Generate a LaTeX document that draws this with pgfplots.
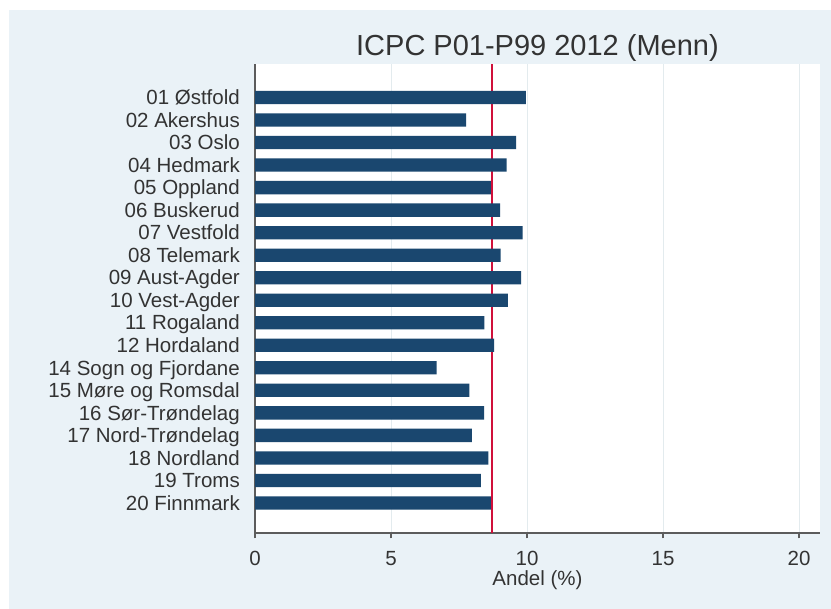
\documentclass[border=0pt]{standalone}
\usepackage{fontspec}
\setmainfont{Liberation Sans}
\usepackage{pgfplots}
\pgfplotsset{compat=1.18}
\definecolor{bg}{HTML}{EAF2F7}
\definecolor{barc}{HTML}{1A476F}
\definecolor{refc}{HTML}{D0103A}
\definecolor{axc}{HTML}{5C5C5C}
\definecolor{gridc}{HTML}{E3EBEE}
\definecolor{txt}{HTML}{333333}
\begin{document}
\begin{tikzpicture}
\useasboundingbox (0,0) rectangle (831bp,-609bp);
\fill[white] (0,0) rectangle (831bp,-609bp);
\fill[bg] (9bp,-10bp) rectangle (831bp,-609bp);
\begin{axis}[
  at={(255bp,-532.7bp)}, anchor=south west,
  scale only axis, width=565bp, height=469.2bp,
  xmin=0, xmax=20.77, ymin=-0.32, ymax=20.51,
  axis lines*=left,
  axis background/.style={fill=white},
  axis line style={axc, line width=1.6bp},
  /pgf/number format/assume math mode=true,
  xtick={0,5,10,15,20},
  ytick={1,...,19},
  yticklabels={20 Finnmark,19 Troms,18 Nordland,17 Nord-Trøndelag,16 Sør-Trøndelag,15 Møre og Romsdal,14 Sogn og Fjordane,12 Hordaland,11 Rogaland,10 Vest-Agder,09 Aust-Agder,08 Telemark,07 Vestfold,06 Buskerud,05 Oppland,04 Hedmark,03 Oslo,02 Akershus,01 Østfold},
  tick align=outside,
  major tick length=5.7bp,
  x tick style={axc, line width=1.3bp},
  y tick style={draw=none},
  xmajorgrids,
  major x grid style={gridc, line width=1bp},
  xticklabel style={font=\fontsize{20.5bp}{24bp}\selectfont, text=txt, anchor=base, inner sep=0pt, yshift=-27.3bp},
  yticklabel style={font=\fontsize{20.5bp}{24bp}\selectfont, text=txt, anchor=base east, inner sep=0pt, xshift=-9.3bp, yshift=-7.2bp},
  title={ICPC P01-P99 2012 (Menn)},
  every axis title/.style={at={(0.5,1)}, anchor=base, yshift=8.5bp, inner sep=0pt, font=\fontsize{29bp}{34bp}\selectfont, text=txt},
  xlabel={Andel (\%)},
  every axis x label/.style={at={(0.5,0)}, anchor=base, yshift=-52.3bp, inner sep=0pt, font=\fontsize{20.5bp}{24bp}\selectfont, text=txt},
]
\addplot[draw=refc, color=refc, line width=1.8bp, mark=none, forget plot] coordinates {(8.70,-0.32) (8.70,20.51)};
\addplot[xbar, bar width=13.3bp, fill=barc, draw=none] coordinates {
(9.96,19) (7.76,18) (9.60,17) (9.25,16) (8.67,15) (9.01,14) (9.84,13) (9.03,12) (9.78,11) (9.30,10)
(8.43,9) (8.79,8) (6.68,7) (7.88,6) (8.42,5) (7.97,4) (8.58,3) (8.30,2) (8.67,1)
};
\end{axis}
\end{tikzpicture}
\end{document}
